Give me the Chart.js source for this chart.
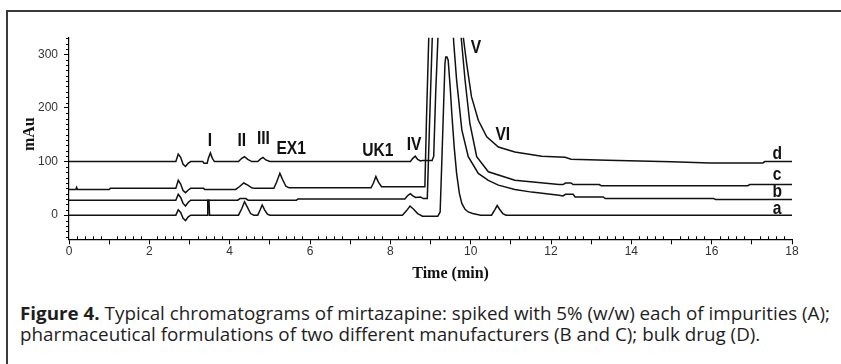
<!DOCTYPE html>
<html>
<head>
<meta charset="utf-8">
<script src="https://cdn.jsdelivr.net/npm/chart.js@4.4.1/dist/chart.umd.min.js"></script>
<style>
  html, body { margin: 0; padding: 0; background: #fff; }
  body { width: 841px; height: 364px; position: relative; overflow: hidden; }
  #frame { position: absolute; left: 6px; top: 10px; width: 900px; height: 420px; border: 2px solid #3a3a3a; box-sizing: border-box; }
  #wrap { position: absolute; left: 0; top: 0; width: 841px; height: 300px; }
  .ln { position: absolute; left: 20px; white-space: nowrap; font-family: "Open Sans", "Noto Sans", sans-serif; font-size: 18.5px; line-height: 21px; color: #1e1e1e; transform-origin: 0 0; }
  #l1 { top: 302px; }
  #l2 { top: 323px; }
  .ln b { font-weight: 700; }
</style>
</head>
<body>
<div id="frame"></div>
<div id="wrap"><canvas id="c" width="841" height="300"></canvas></div>
<div class="ln" id="l1"><b>Figure 4.</b> Typical chromatograms of mirtazapine: spiked with 5% (w/w) each of impurities (A);</div>
<div class="ln" id="l2">pharmaceutical formulations of two different manufacturers (B and C); bulk drug (D).</div>
<script>
// chromatograms: [time (min), mAu]
const traceA = [
  [0,0],[2.66,0],[2.72,10],[2.78,5],[2.84,-6],[2.9,-10],[2.97,-3],[3.03,0],
  [3.44,0],[3.455,28],[3.485,28],[3.5,0],
  [4.22,0],[4.3,12],[4.37,25],[4.44,15],[4.52,3],[4.6,0],
  [4.7,0],[4.76,10],[4.81,19],[4.87,10],[4.94,2],[5.0,0],
  [8.3,0],[8.4,8],[8.49,17],[8.58,11],[8.68,3],[8.8,-2],[9.18,-2],
  [9.24,6],[9.28,96],[9.32,190],[9.36,283],[9.38,295],[9.41,295],[9.44,289],[9.49,239],[9.53,190],
  [9.59,127],[9.65,78],[9.72,40],[9.78,22],[9.86,11],[9.94,6],[10.05,3],[10.25,0],
  [10.52,0],[10.6,10],[10.66,18],[10.72,11],[10.8,3],[10.88,0],[18,0]
];
const traceB = [
  [0,28],[2.66,28],[2.72,39],[2.78,33],[2.84,22],[2.9,17],[2.97,24],[3.03,28],
  [4.2,28],[4.26,31],[4.4,31],[4.46,28],
  [5.66,28],[5.7,30],[8.36,30],[8.44,37],[8.5,40],[8.56,36],[8.63,33],[8.75,34],[8.82,31],[8.92,31],
  [8.98,180],[9.05,345],[9.3,520],[9.52,400],[9.58,320],[9.65,252],[9.78,159],[9.94,109],[10.19,78],
  [10.44,65],[10.69,56],[11.1,48],[11.52,43],[12.2,37],[12.3,36],[12.36,39],[12.55,39],[12.6,34],
  [13.3,34],[13.35,31],[16.05,31],[16.1,29],[18,29]
];
const traceC = [
  [0,48],[0.17,48],[0.19,52],[0.21,48],[1.0,48],[1.03,50],[2.66,50],[2.72,65],[2.78,58],[2.84,46],
  [2.9,42],[2.97,47],[3.03,50],[3.35,50],[3.38,48],[4.15,48],[4.24,53],[4.35,60],[4.45,56],[4.55,51],[4.62,50],
  [5.1,50],[5.17,62],[5.25,78],[5.32,66],[5.4,54],[5.48,51],
  [7.52,51],[7.58,60],[7.64,72],[7.7,62],[7.78,53],[8.86,53],
  [8.9,180],[8.96,340],[9.3,560],[9.7,400],[9.76,335],[9.86,252],[9.98,171],[10.15,109],[10.44,81],
  [11.1,65],[12.2,57],[12.3,57],[12.36,60],[12.5,60],[12.55,57],[13.2,57],[13.25,55],[16.9,55],[16.95,57],[18,57]
];
const traceD = [
  [0,100],[2.66,100],[2.72,114],[2.78,108],[2.84,95],[2.9,91],[2.97,97],[3.03,100],[3.33,100],[3.36,97],
  [3.44,97],[3.47,106],[3.52,116],[3.57,106],[3.62,100],
  [4.22,100],[4.3,106],[4.37,109],[4.45,104],[4.55,100],
  [4.7,100],[4.77,105],[4.83,107.5],[4.9,103],[5.0,100],
  [8.5,100],[8.56,106],[8.62,110],[8.68,104],[8.75,101],[8.8,102],[9.04,102],
  [9.08,110],[9.13,230],[9.19,340],[9.5,560],[9.78,380],[9.82,330],[9.9,283],[10.02,221],[10.19,177],
  [10.4,146],[10.69,127],[11.1,118],[11.77,110],[12.35,108],[12.5,104.5],[13.4,102.5],[15.0,99.5],
  [15.96,97.5],[17.28,97.5],[17.32,100],[18,100]
];

// axis ticks
const xTicks = [0,1,2,3,4,5,6,7,8,9,10,11,12,13,14,15,16,17,18];
const yTicks = [0,100,200,300];

// peak and trace labels (time, mAu of text baseline)
const peakNames = ['I','II','III','EX1','UK1','IV','V','VI'];
const peakNameTime = [3.51,4.30,4.84,5.53,7.69,8.59,10.13,10.80];
const peakNameLevel = [128.7,128.7,132.5,113.8,110,121,301.7,140];
const traceNames = ['d','c','b','a'];
const traceNameTime = 17.63;
const traceNameLevel = [104.5,65.3,34,2];

function toXY(pairs) { return pairs.map(p => ({x: p[0], y: p[1]})); }
function ds(pairs) {
  return { data: toXY(pairs), borderColor: '#111', borderWidth: 1.5, pointRadius: 0, tension: 0, fill: false };
}

function narrowText(ctx, s, px, py) {
  ctx.save();
  ctx.translate(px, py);
  ctx.scale(0.82, 1);
  ctx.fillText(s, 0, 0);
  ctx.restore();
}

const decor = {
  id: 'decor',
  afterDraw(chart) {
    const {ctx, chartArea: a, scales: {x, y}} = chart;
    ctx.save();
    // minor ticks
    ctx.strokeStyle = '#000';
    ctx.lineWidth = 1;
    ctx.beginPath();
    for (let i = 1; i < 90; i++) {
      if (i % 5 === 0) continue;
      const px = Math.round(x.getPixelForValue(i * 0.2)) + 0.5;
      ctx.moveTo(px, a.bottom); ctx.lineTo(px, a.bottom - 3);
    }
    for (let v = -40; v <= 330; v += 10) {
      if (v % 100 === 0) continue;
      const py = Math.round(y.getPixelForValue(v)) + 0.5;
      ctx.moveTo(a.left, py); ctx.lineTo(a.left - 3, py);
    }
    ctx.stroke();
    // labels
    ctx.fillStyle = '#111';
    ctx.textAlign = 'center';
    ctx.textBaseline = 'alphabetic';
    ctx.font = 'bold 19px "Liberation Sans", Arial, sans-serif';
    peakNames.forEach((s, i) => narrowText(ctx, s, x.getPixelForValue(peakNameTime[i]), y.getPixelForValue(peakNameLevel[i])));
    traceNames.forEach((s, i) => narrowText(ctx, s, x.getPixelForValue(traceNameTime), y.getPixelForValue(traceNameLevel[i])));
    // axis titles
    ctx.font = 'bold 16px "Liberation Serif", "Times New Roman", serif';
    ctx.fillText('Time (min)', x.getPixelForValue(9.5), a.bottom + 39);
    ctx.translate(34, y.getPixelForValue(151));
    ctx.rotate(-Math.PI / 2);
    ctx.fillText('mAu', 0, 0);
    ctx.restore();
  }
};

new Chart(document.getElementById('c'), {
  type: 'line',
  data: { datasets: [ds(traceA), ds(traceB), ds(traceC), ds(traceD)] },
  options: {
    responsive: false,
    animation: false,
    layout: { padding: { left: 0, right: 49, top: 37.7, bottom: 30.7 } },
    plugins: { legend: { display: false }, tooltip: { enabled: false } },
    scales: {
      x: {
        type: 'linear', min: 0, max: 18,
        afterBuildTicks: s => { s.ticks = xTicks.map(v => ({value: v})); },
        afterFit: s => { s.height = 30; },
        grid: { drawOnChartArea: false, drawTicks: true, tickLength: 5, tickColor: '#000' },
        border: { display: true, color: '#000', width: 1.2 },
        ticks: { autoSkip: false, maxRotation: 0, padding: 0, color: '#333',
          font: { family: '"Liberation Sans", Arial, sans-serif', size: 12 },
          callback: v => (v % 2 === 0 ? v : '') }
      },
      y: {
        type: 'linear', min: -45, max: 331,
        afterBuildTicks: s => { s.ticks = yTicks.map(v => ({value: v})); },
        afterFit: s => { s.width = 69; },
        grid: { drawOnChartArea: false, drawTicks: true, tickLength: 5, tickColor: '#000' },
        border: { display: true, color: '#000', width: 1.2 },
        ticks: { padding: 6, color: '#333', font: { family: '"Liberation Sans", Arial, sans-serif', size: 12 } }
      }
    }
  },
  plugins: [decor]
});

// squeeze caption lines to the original width
function fitCaption() {
  const l1 = document.getElementById('l1');
  const l2 = document.getElementById('l2');
  const k = 810 / l1.getBoundingClientRect().width;
  l1.style.transform = 'scaleX(' + k + ')';
  l2.style.transform = 'scaleX(' + k + ')';
}
if (document.fonts && document.fonts.ready) document.fonts.ready.then(fitCaption); else fitCaption();
</script>
</body>
</html>
